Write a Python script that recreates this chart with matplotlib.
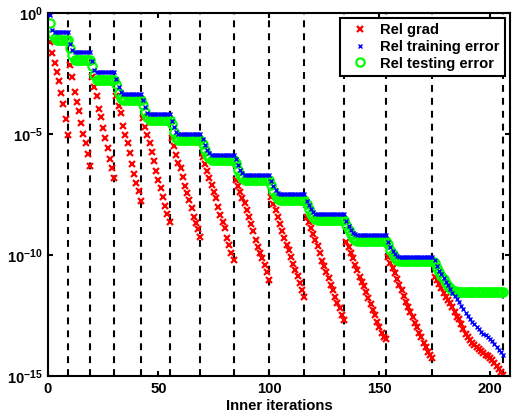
import numpy as np
import matplotlib.pyplot as plt

plt.rcParams['font.family'] = ['Liberation Sans', 'DejaVu Sans']
plt.rcParams['font.weight'] = 'bold'
plt.rcParams['mathtext.default'] = 'regular'

# last inner iteration of each outer iteration (dashed lines)
outer_ends = [9, 19, 30, 42, 55, 69, 84, 100, 116, 134, 153, 174, 206]

# log10 values, one list per outer iteration
grad_log = [
    [-1.19, -1.65, -2.07, -2.45, -2.80, -3.30, -3.76, -4.38, -5.04],
    [-2.15, -2.63, -3.25, -3.67, -4.05, -4.56, -5.01, -5.38, -5.83, -6.32],
    [-2.65, -3.05, -3.45, -3.95, -4.31, -4.74, -5.15, -5.60, -6.05, -6.42, -6.80],
    [-3.45, -3.84, -4.12, -4.68, -5.04, -5.38, -5.77, -6.25, -6.67, -7.01, -7.36, -7.76],
    [-4.35, -4.72, -5.06, -5.38, -5.73, -6.12, -6.53, -6.90, -7.22, -7.59, -7.96, -8.31, -8.62],
    [-5.15, -5.50, -5.87, -6.19, -6.42, -6.79, -7.15, -7.45, -7.73, -8.07, -8.42, -8.69, -8.94, -9.24],
    [-5.95, -6.25, -6.55, -6.83, -7.11, -7.38, -7.63, -8.00, -8.35, -8.62, -8.90, -9.31, -9.59, -9.93, -10.20],
    [-6.90, -7.15, -7.38, -7.66, -7.86, -8.14, -8.42, -8.72, -9.00, -9.36, -9.66, -9.91, -10.14, -10.41, -10.69, -11.03],
    [-7.60, -7.88, -8.15, -8.45, -8.72, -9.00, -9.30, -9.59, -9.79, -10.07, -10.37, -10.62, -10.87, -11.14, -11.45, -11.72],
    [-8.42, -8.65, -8.90, -9.15, -9.38, -9.63, -9.93, -10.24, -10.45, -10.69, -10.96, -11.24, -11.45, -11.72, -11.97,
     -12.20, -12.48, -12.69],
    [-9.45, -9.65, -9.90, -10.14, -10.41, -10.62, -10.89, -11.10, -11.30, -11.51, -11.78, -12.02, -12.27, -12.48,
     -12.76, -12.99, -13.21, -13.38, -13.48],
    [-10.07, -10.32, -10.55, -10.76, -11.00, -11.24, -11.45, -11.69, -11.93, -12.14, -12.34, -12.57, -12.80, -12.99,
     -13.21, -13.40, -13.62, -13.79, -14.00, -14.13, -14.27],
    [-10.90, -11.05, -11.20, -11.38, -11.55, -11.72, -11.85, -12.00, -12.15, -12.35, -12.55, -12.65, -12.85, -13.05,
     -13.25, -13.40, -13.52, -13.62, -13.72, -13.82, -13.90, -13.97, -14.05, -14.12, -14.18, -14.25, -14.35, -14.48,
     -14.58, -14.70, -14.82, -14.95],
]

train_log = [
    [-0.08, -0.72, -0.79, -0.79, -0.79, -0.79, -0.79, -0.79, -0.79],
    [-1.30, -1.55, -1.62, -1.62, -1.62, -1.62, -1.62, -1.62, -1.62, -1.62],
    [-2.00, -2.35, -2.45, -2.45, -2.45, -2.45, -2.45, -2.45, -2.45, -2.45, -2.45],
    [-2.75, -3.05, -3.28, -3.35, -3.35, -3.35, -3.35, -3.35, -3.35, -3.35, -3.35, -3.35],
    [-3.60, -3.90, -4.12, -4.19, -4.19, -4.19, -4.19, -4.19, -4.19, -4.19, -4.19, -4.19, -4.19],
    [-4.45, -4.72, -4.93, -5.01, -5.01, -5.01, -5.01, -5.01, -5.01, -5.01, -5.01, -5.01, -5.01, -5.01],
    [-5.20, -5.45, -5.65, -5.80, -5.85, -5.85, -5.85, -5.85, -5.85, -5.85, -5.85, -5.85, -5.85, -5.85, -5.85],
    [-6.05, -6.30, -6.50, -6.63, -6.68, -6.68, -6.68, -6.68, -6.68, -6.68, -6.68, -6.68, -6.68, -6.68, -6.68, -6.68],
    [-6.95, -7.15, -7.32, -7.43, -7.48, -7.48, -7.48, -7.48, -7.48, -7.48, -7.48, -7.48, -7.48, -7.48, -7.48, -7.48],
    [-7.75, -7.95, -8.12, -8.24, -8.30, -8.32, -8.32, -8.32, -8.32, -8.32, -8.32, -8.32, -8.32, -8.32, -8.32,
     -8.32, -8.32, -8.32],
    [-8.60, -8.80, -8.98, -9.10, -9.15, -9.17, -9.17, -9.17, -9.17, -9.17, -9.17, -9.17, -9.17, -9.17, -9.17,
     -9.17, -9.17, -9.17, -9.17],
    [-9.45, -9.65, -9.82, -9.95, -10.03, -10.07, -10.07, -10.07, -10.07, -10.07, -10.07, -10.07, -10.07, -10.07,
     -10.07, -10.07, -10.07, -10.07, -10.07, -10.07, -10.07],
    [-10.20, -10.45, -10.65, -10.80, -10.95, -11.10, -11.25, -11.40, -11.55, -11.70, -11.80, -11.95, -12.10, -12.25,
     -12.40, -12.52, -12.65, -12.75, -12.86, -12.97, -13.07, -13.16, -13.25, -13.32, -13.39, -13.45, -13.57, -13.68,
     -13.80, -13.91, -14.02, -14.13],
]

test_log = [
    [-0.40, -0.87, -1.05, -1.10, -1.10, -1.10, -1.10, -1.10, -1.10],
    [-1.45, -1.75, -1.94, -1.94, -1.94, -1.94, -1.94, -1.94, -1.94, -1.94],
    [-2.20, -2.55, -2.77, -2.77, -2.77, -2.77, -2.77, -2.77, -2.77, -2.77, -2.77],
    [-2.95, -3.30, -3.50, -3.60, -3.60, -3.60, -3.60, -3.60, -3.60, -3.60, -3.60, -3.60],
    [-3.80, -4.10, -4.32, -4.42, -4.42, -4.42, -4.42, -4.42, -4.42, -4.42, -4.42, -4.42, -4.42],
    [-4.60, -4.90, -5.15, -5.25, -5.25, -5.25, -5.25, -5.25, -5.25, -5.25, -5.25, -5.25, -5.25, -5.25],
    [-5.40, -5.65, -5.85, -6.00, -6.07, -6.07, -6.07, -6.07, -6.07, -6.07, -6.07, -6.07, -6.07, -6.07, -6.07],
    [-6.20, -6.50, -6.70, -6.83, -6.90, -6.90, -6.90, -6.90, -6.90, -6.90, -6.90, -6.90, -6.90, -6.90, -6.90, -6.90],
    [-7.10, -7.35, -7.55, -7.68, -7.73, -7.73, -7.73, -7.73, -7.73, -7.73, -7.73, -7.73, -7.73, -7.73, -7.73, -7.73],
    [-7.90, -8.10, -8.30, -8.45, -8.52, -8.55, -8.55, -8.55, -8.55, -8.55, -8.55, -8.55, -8.55, -8.55, -8.55,
     -8.55, -8.55, -8.55],
    [-8.75, -8.95, -9.15, -9.30, -9.38, -9.41, -9.41, -9.41, -9.41, -9.41, -9.41, -9.41, -9.41, -9.41, -9.41,
     -9.41, -9.41, -9.41, -9.41],
    [-9.55, -9.78, -9.97, -10.12, -10.21, -10.25, -10.25, -10.25, -10.25, -10.25, -10.25, -10.25, -10.25, -10.25,
     -10.25, -10.25, -10.25, -10.25, -10.25, -10.25, -10.25],
    [-10.35, -10.55, -10.70, -10.85, -11.00, -11.15, -11.28, -11.38, -11.45, -11.50, -11.52, -11.52, -11.52, -11.52,
     -11.52, -11.52, -11.52, -11.52, -11.52, -11.52, -11.52, -11.52, -11.52, -11.52, -11.52, -11.52, -11.52, -11.52,
     -11.52, -11.52, -11.52, -11.52],
]

rel_grad = 10.0 ** np.concatenate(grad_log)
rel_train = 10.0 ** np.concatenate(train_log)
rel_test = 10.0 ** np.concatenate(test_log)
iters = np.arange(1, len(rel_grad) + 1)

fig = plt.figure(figsize=(5.16, 4.16), dpi=100)
ax = fig.add_axes([0.093, 0.096, 0.895, 0.873])

for xe in outer_ends:
    ax.axvline(xe, color='k', lw=1.5, linestyle=(0, (3.3, 2.9)), zorder=1)

ax.semilogy(iters, rel_grad, 'x', color='red', ms=4.5, mew=1.6, label='Rel grad', zorder=2)
ax.semilogy(iters, rel_train, 'x', color='blue', ms=3.5, mew=1.0, label='Rel training error', zorder=3)
ax.semilogy(iters, rel_test, 'o', color=(0, 1, 0), mfc='none', ms=6, mew=1.6,
            label='Rel testing error', zorder=2.5)

ax.set_xlim(0, 209)
ax.set_ylim(1e-15, 1e0)
ax.set_xticks([0, 50, 100, 150, 200])
ax.set_yticks([1e-15, 1e-10, 1e-5, 1e0])
ax.set_yticklabels([r'$10^{-15}$', r'$10^{-10}$', r'$10^{-5}$', r'$10^{0}$'])
ax.minorticks_off()
ax.tick_params(direction='in', top=True, right=True, length=3.5, width=1.5, labelsize=10.7)
ax.tick_params(axis='x', pad=4.5)
for sp in ax.spines.values():
    sp.set_linewidth(1.5)

ax.set_xlabel('Inner iterations', fontsize=10.7, fontweight='bold', labelpad=2)

leg = ax.legend(loc='upper right', numpoints=1, fontsize=10.6, fancybox=False, framealpha=1,
                edgecolor='k', borderpad=0.35, handlelength=2.0, handletextpad=0.35,
                labelspacing=0.18, borderaxespad=0.35)
leg.get_frame().set_linewidth(1.5)

fig.savefig('out.png', dpi=100)
